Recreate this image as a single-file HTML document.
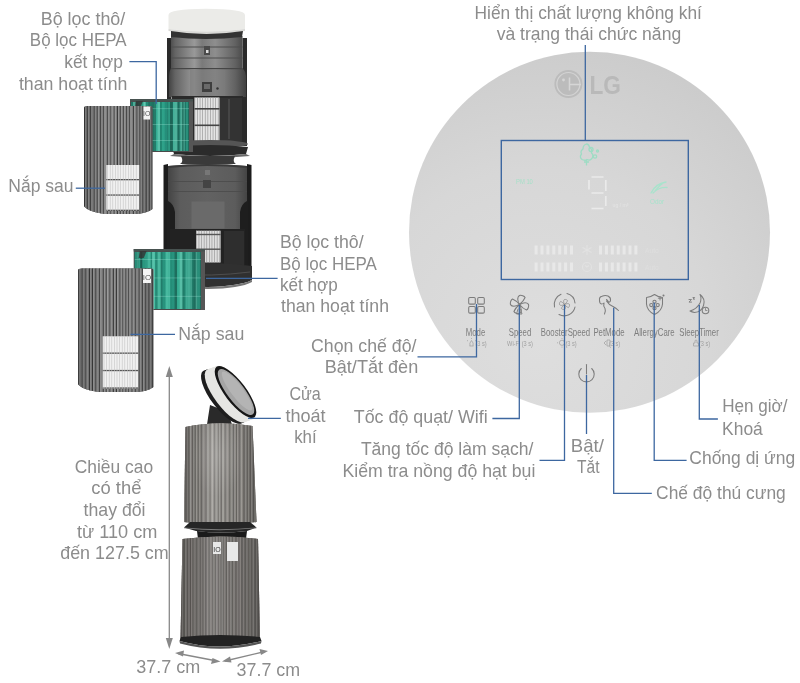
<!DOCTYPE html><html><head><meta charset="utf-8"><style>
html,body{margin:0;padding:0;background:#fff;width:800px;height:683px;overflow:hidden}
svg{display:block;font-family:"Liberation Sans",sans-serif;will-change:transform}
</style></head><body>
<svg width="800" height="683" viewBox="0 0 800 683">
<defs>
<radialGradient id="disc" cx="0.36" cy="0.8" r="0.95">
<stop offset="0" stop-color="#dedede"/><stop offset="0.5" stop-color="#d7d7d7"/><stop offset="1" stop-color="#c8c8c8"/>
</radialGradient>
<linearGradient id="cyl" x1="0" x2="1" y1="0" y2="0">
<stop offset="0" stop-color="#444"/><stop offset="0.08" stop-color="#646464"/><stop offset="0.33" stop-color="#999"/>
<stop offset="0.43" stop-color="#7a7a7a"/><stop offset="0.6" stop-color="#8e8e8e"/><stop offset="0.86" stop-color="#626262"/><stop offset="1" stop-color="#404040"/>
</linearGradient>
<linearGradient id="cyl2" x1="0" x2="1" y1="0" y2="0">
<stop offset="0" stop-color="#444"/><stop offset="0.15" stop-color="#5c5c5c"/><stop offset="0.5" stop-color="#626262"/>
<stop offset="0.85" stop-color="#5c5c5c"/><stop offset="1" stop-color="#444"/>
</linearGradient>
<linearGradient id="shade" x1="0" x2="1" y1="0" y2="0">
<stop offset="0" stop-color="#000" stop-opacity="0.35"/><stop offset="0.3" stop-color="#000" stop-opacity="0"/>
<stop offset="0.7" stop-color="#000" stop-opacity="0"/><stop offset="1" stop-color="#000" stop-opacity="0.35"/>
</linearGradient>
<linearGradient id="tallshade" x1="0" x2="1" y1="0" y2="0">
<stop offset="0" stop-color="#000" stop-opacity="0.28"/><stop offset="0.15" stop-color="#000" stop-opacity="0.05"/>
<stop offset="0.4" stop-color="#fff" stop-opacity="0.18"/><stop offset="0.6" stop-color="#fff" stop-opacity="0.06"/>
<stop offset="0.85" stop-color="#000" stop-opacity="0.08"/><stop offset="1" stop-color="#000" stop-opacity="0.3"/>
</linearGradient>
<radialGradient id="hl"><stop offset="0" stop-color="#fff" stop-opacity="0.14"/><stop offset="1" stop-color="#fff" stop-opacity="0"/></radialGradient>
<linearGradient id="green" x1="0" x2="1" y1="0" y2="0">
<stop offset="0" stop-color="#1e6e60"/><stop offset="0.3" stop-color="#2fa58c"/><stop offset="0.65" stop-color="#2c9d86"/><stop offset="1" stop-color="#1e6a5c"/>
</linearGradient>
</defs>

<g>
<rect x="167" y="38" width="4.5" height="108" fill="#2a2a2a"/><rect x="242.5" y="38" width="4.5" height="108" fill="#2a2a2a"/>
<path d="M171 36 L242.5 36 L242.5 68 Q246 72 246 76 L246 97 L169 97 L169 76 Q169 72 171 68 Z" fill="url(#cyl)"/>
<rect x="171" y="46.5" width="71.5" height="1" fill="#4e4e4e"/><rect x="171" y="57.5" width="71.5" height="1" fill="#4e4e4e"/><rect x="171" y="68" width="71.5" height="1.2" fill="#464646"/>
<path d="M190 70 L225 70 L225 97 L190 97Z" fill="#7c7c7c" opacity="0.6"/>
<rect x="204" y="46" width="6" height="9" fill="#4a4a4a"/><rect x="206" y="50" width="2.5" height="3" fill="#ddd"/>
<rect x="202" y="82" width="10" height="10" fill="#3e3e3e"/><rect x="204" y="84" width="6" height="5" fill="#6a6a6a"/><circle cx="217.5" cy="88.5" r="1.2" fill="#333"/>
<rect x="172" y="96" width="71" height="46" fill="#2a2a2a"/>
<rect x="218" y="98" width="24" height="43" fill="#333"/><rect x="228" y="99" width="2" height="40" fill="#454545"/>
<rect x="194.5" y="97.5" width="25" height="43.5" fill="#e4e4e4"/>
<rect x="194.5" y="97.5" width="0.7" height="43.5" fill="#9a9a9a"/><rect x="197.1" y="97.5" width="0.7" height="43.5" fill="#9a9a9a"/><rect x="199.7" y="97.5" width="0.7" height="43.5" fill="#9a9a9a"/><rect x="202.3" y="97.5" width="0.7" height="43.5" fill="#9a9a9a"/><rect x="204.9" y="97.5" width="0.7" height="43.5" fill="#9a9a9a"/><rect x="207.5" y="97.5" width="0.7" height="43.5" fill="#9a9a9a"/><rect x="210.1" y="97.5" width="0.7" height="43.5" fill="#9a9a9a"/><rect x="212.7" y="97.5" width="0.7" height="43.5" fill="#9a9a9a"/><rect x="215.3" y="97.5" width="0.7" height="43.5" fill="#9a9a9a"/><rect x="217.9" y="97.5" width="0.7" height="43.5" fill="#9a9a9a"/>
<rect x="194.5" y="108" width="25" height="1.6" fill="#444"/><rect x="194.5" y="124.5" width="25" height="1.6" fill="#444"/>
<ellipse cx="210" cy="144" rx="38" ry="4" fill="#555"/>
<path d="M172 147 Q210 143 248 147 L246 154 Q210 158 174 154 Z" fill="#2b2b2b"/>
<path d="M174 154 Q210 158 246 154 L250 156 Q210 160 170 156Z" fill="#6a6a6a"/>
<path d="M181 156 L235 156 Q232 162 236 164 L180 164 Q184 162 181 156Z" fill="#3a3a3a"/>
<path d="M168.5 29 L168.5 15 Q168.5 9 206 8.8 Q245 9 245 15 L245 29 Q206 34 168.5 29Z" fill="#ebebe8"/>
<path d="M168.5 29 Q206 34 245 29 L245 31 Q206 37 168.5 31Z" fill="#d9d9d6"/>
<path d="M171 31 Q206 37 243 31 L242 37 Q206 41 171 37Z" fill="#333"/>
</g>
<g>
<path d="M163.5 165 L168 164 L168 272 L163.5 272Z M247 164 L251.5 165 L251.5 272 L247 272Z" fill="#1c1c1c"/>
<rect x="167" y="195" width="81" height="76" fill="#1e1e1e"/>
<path d="M168 166 Q207 162 247 166 L247 201 Q241 204 240 212 L240 229 L175 229 L175 212 Q174 204 168 201Z" fill="url(#cyl2)"/>
<path d="M168 166 Q207 162 247 166 L247 168 Q207 164 168 168Z" fill="#3a3a3a"/>
<rect x="168" y="181" width="79" height="0.8" fill="#4a4a4a"/><rect x="168" y="191" width="79" height="0.8" fill="#4a4a4a"/>
<rect x="191.5" y="201.5" width="33" height="27" fill="#6a6a6a"/>
<rect x="205" y="170" width="5" height="5" fill="#777"/><rect x="203" y="180" width="8" height="8" fill="#444"/>
<rect x="170" y="229" width="75" height="40" fill="#222"/>
<rect x="224" y="231" width="20" height="36" fill="#2e2e2e"/>
<rect x="196" y="230.7" width="24.6" height="31.8" fill="#dedede"/>
<rect x="196.0" y="230.7" width="0.7" height="31.8" fill="#9a9a9a"/><rect x="198.6" y="230.7" width="0.7" height="31.8" fill="#9a9a9a"/><rect x="201.2" y="230.7" width="0.7" height="31.8" fill="#9a9a9a"/><rect x="203.8" y="230.7" width="0.7" height="31.8" fill="#9a9a9a"/><rect x="206.4" y="230.7" width="0.7" height="31.8" fill="#9a9a9a"/><rect x="209.0" y="230.7" width="0.7" height="31.8" fill="#9a9a9a"/><rect x="211.6" y="230.7" width="0.7" height="31.8" fill="#9a9a9a"/><rect x="214.2" y="230.7" width="0.7" height="31.8" fill="#9a9a9a"/><rect x="216.8" y="230.7" width="0.7" height="31.8" fill="#9a9a9a"/><rect x="219.4" y="230.7" width="0.7" height="31.8" fill="#9a9a9a"/>
<rect x="196" y="233.8" width="24.6" height="1.4" fill="#555"/><rect x="196" y="248.5" width="24.6" height="1.4" fill="#555"/>
<path d="M165 266 Q208 260 252 266 L252 280 Q240 286 208 287 Q180 287 165 284Z" fill="#303030"/>
<path d="M175 274 Q210 277 250 272" fill="none" stroke="#555" stroke-width="0.8"/>
<path d="M165 284 Q180 287 208 287 Q240 286 252 280 L252 282 Q240 288.5 208 289 Q180 289 165 286Z" fill="#777"/>
</g>
<rect x="130" y="99" width="63" height="53" fill="#4a4a4a"/><rect x="131" y="102" width="58" height="49" fill="url(#green)"/><rect x="131.0" y="102" width="2.0" height="49" fill="#1d7a68" opacity="0.64"/><rect x="133.0" y="102" width="2.7" height="49" fill="#7adcc4" opacity="0.50"/><rect x="135.7" y="102" width="2.3" height="49" fill="#17584c" opacity="0.62"/><rect x="138.0" y="102" width="2.0" height="49" fill="#1d7a68" opacity="0.62"/><rect x="140.1" y="102" width="1.2" height="49" fill="#3cb79b" opacity="0.36"/><rect x="141.3" y="102" width="2.2" height="49" fill="#2fa58b" opacity="0.55"/><rect x="143.4" y="102" width="2.3" height="49" fill="#7adcc4" opacity="0.69"/><rect x="145.8" y="102" width="2.4" height="49" fill="#1d7a68" opacity="0.56"/><rect x="148.2" y="102" width="2.4" height="49" fill="#133f38" opacity="0.51"/><rect x="150.6" y="102" width="1.1" height="49" fill="#17584c" opacity="0.65"/><rect x="151.7" y="102" width="2.3" height="49" fill="#133f38" opacity="0.49"/><rect x="154.0" y="102" width="2.0" height="49" fill="#133f38" opacity="0.38"/><rect x="156.0" y="102" width="1.5" height="49" fill="#3cb79b" opacity="0.50"/><rect x="157.5" y="102" width="2.5" height="49" fill="#7adcc4" opacity="0.56"/><rect x="160.0" y="102" width="1.9" height="49" fill="#1d7a68" opacity="0.70"/><rect x="161.9" y="102" width="2.8" height="49" fill="#2fa58b" opacity="0.40"/><rect x="164.7" y="102" width="2.7" height="49" fill="#1d7a68" opacity="0.42"/><rect x="167.4" y="102" width="1.2" height="49" fill="#133f38" opacity="0.34"/><rect x="168.5" y="102" width="1.2" height="49" fill="#3cb79b" opacity="0.45"/><rect x="169.8" y="102" width="3.1" height="49" fill="#133f38" opacity="0.57"/><rect x="172.9" y="102" width="1.5" height="49" fill="#5fcfb5" opacity="0.49"/><rect x="174.3" y="102" width="3.2" height="49" fill="#7adcc4" opacity="0.47"/><rect x="177.5" y="102" width="2.2" height="49" fill="#17584c" opacity="0.61"/><rect x="179.7" y="102" width="1.6" height="49" fill="#5fcfb5" opacity="0.42"/><rect x="181.3" y="102" width="1.0" height="49" fill="#7adcc4" opacity="0.60"/><rect x="182.4" y="102" width="1.3" height="49" fill="#17584c" opacity="0.58"/><rect x="183.6" y="102" width="1.0" height="49" fill="#7adcc4" opacity="0.62"/><rect x="184.6" y="102" width="1.4" height="49" fill="#1d7a68" opacity="0.38"/><rect x="186.0" y="102" width="2.0" height="49" fill="#2fa58b" opacity="0.61"/><rect x="131" y="108.4" width="58" height="0.7" fill="#9fe6d4" opacity="0.45"/><rect x="131" y="124.3" width="58" height="0.7" fill="#9fe6d4" opacity="0.45"/><rect x="131" y="140.2" width="58" height="0.7" fill="#9fe6d4" opacity="0.45"/><rect x="189" y="99" width="4" height="53" fill="#565656"/><rect x="130" y="99" width="63" height="2.5" fill="#475250"/><path d="M136 101 L143 101 L140 108 L135 108Z" fill="#333" opacity="0.8"/>
<rect x="133.7" y="249" width="71.30000000000001" height="61" fill="#4a4a4a"/><rect x="134.7" y="252" width="66.30000000000001" height="57" fill="url(#green)"/><rect x="134.7" y="252" width="2.0" height="57" fill="#2fa58b" opacity="0.51"/><rect x="136.7" y="252" width="1.8" height="57" fill="#7adcc4" opacity="0.30"/><rect x="138.5" y="252" width="1.8" height="57" fill="#3cb79b" opacity="0.56"/><rect x="140.3" y="252" width="2.0" height="57" fill="#133f38" opacity="0.54"/><rect x="142.4" y="252" width="2.2" height="57" fill="#2fa58b" opacity="0.55"/><rect x="144.6" y="252" width="3.2" height="57" fill="#3cb79b" opacity="0.36"/><rect x="147.7" y="252" width="3.0" height="57" fill="#5fcfb5" opacity="0.53"/><rect x="150.7" y="252" width="1.4" height="57" fill="#1d7a68" opacity="0.57"/><rect x="152.2" y="252" width="1.7" height="57" fill="#7adcc4" opacity="0.62"/><rect x="153.9" y="252" width="1.2" height="57" fill="#5fcfb5" opacity="0.63"/><rect x="155.1" y="252" width="2.5" height="57" fill="#17584c" opacity="0.34"/><rect x="157.6" y="252" width="3.2" height="57" fill="#7adcc4" opacity="0.35"/><rect x="160.7" y="252" width="1.9" height="57" fill="#17584c" opacity="0.52"/><rect x="162.7" y="252" width="2.9" height="57" fill="#1d7a68" opacity="0.37"/><rect x="165.6" y="252" width="2.5" height="57" fill="#5fcfb5" opacity="0.52"/><rect x="168.1" y="252" width="2.1" height="57" fill="#5fcfb5" opacity="0.46"/><rect x="170.2" y="252" width="1.9" height="57" fill="#1d7a68" opacity="0.49"/><rect x="172.2" y="252" width="2.3" height="57" fill="#1d7a68" opacity="0.31"/><rect x="174.5" y="252" width="2.6" height="57" fill="#17584c" opacity="0.69"/><rect x="177.1" y="252" width="2.5" height="57" fill="#3cb79b" opacity="0.68"/><rect x="179.6" y="252" width="2.9" height="57" fill="#7adcc4" opacity="0.57"/><rect x="182.5" y="252" width="1.3" height="57" fill="#17584c" opacity="0.43"/><rect x="183.7" y="252" width="1.8" height="57" fill="#1d7a68" opacity="0.62"/><rect x="185.5" y="252" width="2.1" height="57" fill="#5fcfb5" opacity="0.45"/><rect x="187.6" y="252" width="2.9" height="57" fill="#5fcfb5" opacity="0.51"/><rect x="190.5" y="252" width="1.5" height="57" fill="#7adcc4" opacity="0.32"/><rect x="192.0" y="252" width="1.4" height="57" fill="#1d7a68" opacity="0.34"/><rect x="193.5" y="252" width="2.2" height="57" fill="#17584c" opacity="0.33"/><rect x="195.7" y="252" width="1.6" height="57" fill="#7adcc4" opacity="0.41"/><rect x="197.3" y="252" width="1.8" height="57" fill="#2fa58b" opacity="0.59"/><rect x="199.0" y="252" width="1.0" height="57" fill="#3cb79b" opacity="0.38"/><rect x="134.7" y="259.3" width="66.30000000000001" height="0.7" fill="#9fe6d4" opacity="0.45"/><rect x="134.7" y="277.6" width="66.30000000000001" height="0.7" fill="#9fe6d4" opacity="0.45"/><rect x="134.7" y="295.9" width="66.30000000000001" height="0.7" fill="#9fe6d4" opacity="0.45"/><rect x="201" y="249" width="4" height="61" fill="#565656"/><rect x="133.7" y="249" width="71.30000000000001" height="2.5" fill="#475250"/><path d="M139.7 251 L146.7 251 L143.7 258 L138.7 258Z" fill="#333" opacity="0.8"/>
<clipPath id="cc21"><path d="M84 108 Q84 106 88 106 L150.5 106 L152.5 107 L152.5 209 Q146.5 214 132.5 214 L106 214 Q88 212 84 206Z"/></clipPath><g clip-path="url(#cc21)"><rect x="84" y="101" width="68.5" height="118" fill="#5f5f5f"/><rect x="84" y="101" width="68.5" height="118" fill="#7e7e7e"/><rect x="84.00" y="101" width="0.91" height="118" fill="#3a3a3a"/><rect x="85.00" y="101" width="1.04" height="118" fill="#9c9c9c" opacity="0.82"/><rect x="86.96" y="101" width="0.76" height="118" fill="#3a3a3a"/><rect x="87.96" y="101" width="1.15" height="118" fill="#9c9c9c" opacity="0.90"/><rect x="90.24" y="101" width="0.85" height="118" fill="#3a3a3a"/><rect x="91.24" y="101" width="1.26" height="118" fill="#9c9c9c" opacity="0.75"/><rect x="93.85" y="101" width="0.70" height="118" fill="#3a3a3a"/><rect x="94.85" y="101" width="1.06" height="118" fill="#9c9c9c" opacity="0.69"/><rect x="96.89" y="101" width="0.72" height="118" fill="#3a3a3a"/><rect x="97.89" y="101" width="1.18" height="118" fill="#9c9c9c" opacity="0.90"/><rect x="100.27" y="101" width="0.77" height="118" fill="#3a3a3a"/><rect x="101.27" y="101" width="1.06" height="118" fill="#9c9c9c" opacity="0.52"/><rect x="103.31" y="101" width="0.92" height="118" fill="#3a3a3a"/><rect x="104.31" y="101" width="1.33" height="118" fill="#9c9c9c" opacity="0.94"/><rect x="107.10" y="101" width="0.71" height="118" fill="#3a3a3a"/><rect x="108.10" y="101" width="1.20" height="118" fill="#9c9c9c" opacity="0.66"/><rect x="110.52" y="101" width="0.73" height="118" fill="#3a3a3a"/><rect x="111.52" y="101" width="1.15" height="118" fill="#9c9c9c" opacity="0.98"/><rect x="113.82" y="101" width="0.75" height="118" fill="#3a3a3a"/><rect x="114.82" y="101" width="1.11" height="118" fill="#9c9c9c" opacity="0.91"/><rect x="116.99" y="101" width="0.98" height="118" fill="#3a3a3a"/><rect x="117.99" y="101" width="1.02" height="118" fill="#9c9c9c" opacity="0.73"/><rect x="119.91" y="101" width="0.80" height="118" fill="#3a3a3a"/><rect x="120.91" y="101" width="1.17" height="118" fill="#9c9c9c" opacity="0.74"/><rect x="123.26" y="101" width="0.71" height="118" fill="#3a3a3a"/><rect x="124.26" y="101" width="1.05" height="118" fill="#9c9c9c" opacity="0.93"/><rect x="126.25" y="101" width="0.93" height="118" fill="#3a3a3a"/><rect x="127.25" y="101" width="1.06" height="118" fill="#9c9c9c" opacity="0.60"/><rect x="129.28" y="101" width="0.97" height="118" fill="#3a3a3a"/><rect x="130.28" y="101" width="1.32" height="118" fill="#9c9c9c" opacity="0.88"/><rect x="133.05" y="101" width="0.87" height="118" fill="#3a3a3a"/><rect x="134.05" y="101" width="1.25" height="118" fill="#9c9c9c" opacity="0.86"/><rect x="136.62" y="101" width="0.84" height="118" fill="#3a3a3a"/><rect x="137.62" y="101" width="1.02" height="118" fill="#9c9c9c" opacity="0.91"/><rect x="139.54" y="101" width="0.98" height="118" fill="#3a3a3a"/><rect x="140.54" y="101" width="1.05" height="118" fill="#9c9c9c" opacity="0.94"/><rect x="142.54" y="101" width="0.81" height="118" fill="#3a3a3a"/><rect x="143.54" y="101" width="1.12" height="118" fill="#9c9c9c" opacity="0.73"/><rect x="145.75" y="101" width="1.00" height="118" fill="#3a3a3a"/><rect x="146.75" y="101" width="1.12" height="118" fill="#9c9c9c" opacity="0.69"/><rect x="148.93" y="101" width="0.73" height="118" fill="#3a3a3a"/><rect x="149.93" y="101" width="0.99" height="118" fill="#9c9c9c" opacity="0.86"/><rect x="151.76" y="101" width="0.85" height="118" fill="#3a3a3a"/><rect x="152.76" y="101" width="1.33" height="118" fill="#9c9c9c" opacity="0.75"/><rect x="84" y="101" width="68.5" height="118" fill="url(#shade)" opacity="0.55"/><rect x="106.3" y="165" width="32.89999999999999" height="46" fill="#f0f0f0"/><rect x="106.3" y="179.0" width="32.89999999999999" height="1.3" fill="#555"/><rect x="106.3" y="194.4" width="32.89999999999999" height="1.3" fill="#555"/><rect x="106.3" y="209.7" width="32.89999999999999" height="1.3" fill="#555"/><rect x="107.3" y="165" width="0.6" height="46" fill="#c4c4c4"/><rect x="109.9" y="165" width="0.6" height="46" fill="#c4c4c4"/><rect x="112.5" y="165" width="0.6" height="46" fill="#c4c4c4"/><rect x="115.1" y="165" width="0.6" height="46" fill="#c4c4c4"/><rect x="117.7" y="165" width="0.6" height="46" fill="#c4c4c4"/><rect x="120.3" y="165" width="0.6" height="46" fill="#c4c4c4"/><rect x="122.9" y="165" width="0.6" height="46" fill="#c4c4c4"/><rect x="125.5" y="165" width="0.6" height="46" fill="#c4c4c4"/><rect x="128.1" y="165" width="0.6" height="46" fill="#c4c4c4"/><rect x="130.7" y="165" width="0.6" height="46" fill="#c4c4c4"/><rect x="133.3" y="165" width="0.6" height="46" fill="#c4c4c4"/><rect x="135.9" y="165" width="0.6" height="46" fill="#c4c4c4"/></g>
<rect x="143.5" y="106.5" width="6.5" height="13" fill="#f2f2f2"/><text x="146.8" y="116" font-size="7" fill="#555" text-anchor="middle">IO</text>
<clipPath id="cc22"><path d="M78 270.5 Q78 268.5 82 268.5 L151.5 268.5 L153.5 269.5 L153.5 387 Q147.5 392 133.5 392 L100 392 Q82 390 78 384Z"/></clipPath><g clip-path="url(#cc22)"><rect x="78" y="263.5" width="75.5" height="133.5" fill="#5f5f5f"/><rect x="78" y="263.5" width="75.5" height="133.5" fill="#7e7e7e"/><rect x="78.00" y="263.5" width="0.74" height="133.5" fill="#3a3a3a"/><rect x="79.00" y="263.5" width="1.32" height="133.5" fill="#9c9c9c" opacity="0.51"/><rect x="81.76" y="263.5" width="0.76" height="133.5" fill="#3a3a3a"/><rect x="82.76" y="263.5" width="1.33" height="133.5" fill="#9c9c9c" opacity="0.56"/><rect x="85.56" y="263.5" width="0.80" height="133.5" fill="#3a3a3a"/><rect x="86.56" y="263.5" width="1.21" height="133.5" fill="#9c9c9c" opacity="0.94"/><rect x="89.01" y="263.5" width="0.99" height="133.5" fill="#3a3a3a"/><rect x="90.01" y="263.5" width="1.06" height="133.5" fill="#9c9c9c" opacity="0.66"/><rect x="92.04" y="263.5" width="0.98" height="133.5" fill="#3a3a3a"/><rect x="93.04" y="263.5" width="1.19" height="133.5" fill="#9c9c9c" opacity="0.84"/><rect x="95.44" y="263.5" width="0.91" height="133.5" fill="#3a3a3a"/><rect x="96.44" y="263.5" width="1.30" height="133.5" fill="#9c9c9c" opacity="0.52"/><rect x="99.16" y="263.5" width="0.88" height="133.5" fill="#3a3a3a"/><rect x="100.16" y="263.5" width="1.29" height="133.5" fill="#9c9c9c" opacity="0.66"/><rect x="102.85" y="263.5" width="0.95" height="133.5" fill="#3a3a3a"/><rect x="103.85" y="263.5" width="1.05" height="133.5" fill="#9c9c9c" opacity="0.79"/><rect x="105.84" y="263.5" width="0.93" height="133.5" fill="#3a3a3a"/><rect x="106.84" y="263.5" width="1.31" height="133.5" fill="#9c9c9c" opacity="0.98"/><rect x="109.57" y="263.5" width="0.91" height="133.5" fill="#3a3a3a"/><rect x="110.57" y="263.5" width="1.18" height="133.5" fill="#9c9c9c" opacity="0.81"/><rect x="112.94" y="263.5" width="0.99" height="133.5" fill="#3a3a3a"/><rect x="113.94" y="263.5" width="1.07" height="133.5" fill="#9c9c9c" opacity="0.66"/><rect x="116.00" y="263.5" width="0.99" height="133.5" fill="#3a3a3a"/><rect x="117.00" y="263.5" width="1.25" height="133.5" fill="#9c9c9c" opacity="0.83"/><rect x="119.58" y="263.5" width="0.95" height="133.5" fill="#3a3a3a"/><rect x="120.58" y="263.5" width="1.03" height="133.5" fill="#9c9c9c" opacity="0.83"/><rect x="122.52" y="263.5" width="0.71" height="133.5" fill="#3a3a3a"/><rect x="123.52" y="263.5" width="1.04" height="133.5" fill="#9c9c9c" opacity="0.77"/><rect x="125.51" y="263.5" width="0.98" height="133.5" fill="#3a3a3a"/><rect x="126.51" y="263.5" width="0.99" height="133.5" fill="#9c9c9c" opacity="0.75"/><rect x="128.34" y="263.5" width="0.82" height="133.5" fill="#3a3a3a"/><rect x="129.34" y="263.5" width="1.16" height="133.5" fill="#9c9c9c" opacity="0.83"/><rect x="131.66" y="263.5" width="0.79" height="133.5" fill="#3a3a3a"/><rect x="132.66" y="263.5" width="1.30" height="133.5" fill="#9c9c9c" opacity="0.69"/><rect x="135.37" y="263.5" width="0.79" height="133.5" fill="#3a3a3a"/><rect x="136.37" y="263.5" width="1.18" height="133.5" fill="#9c9c9c" opacity="0.80"/><rect x="138.76" y="263.5" width="0.83" height="133.5" fill="#3a3a3a"/><rect x="139.76" y="263.5" width="1.17" height="133.5" fill="#9c9c9c" opacity="0.84"/><rect x="142.10" y="263.5" width="0.73" height="133.5" fill="#3a3a3a"/><rect x="143.10" y="263.5" width="1.16" height="133.5" fill="#9c9c9c" opacity="1.00"/><rect x="145.43" y="263.5" width="0.83" height="133.5" fill="#3a3a3a"/><rect x="146.43" y="263.5" width="1.10" height="133.5" fill="#9c9c9c" opacity="0.70"/><rect x="148.58" y="263.5" width="0.99" height="133.5" fill="#3a3a3a"/><rect x="149.58" y="263.5" width="1.31" height="133.5" fill="#9c9c9c" opacity="0.76"/><rect x="152.31" y="263.5" width="0.73" height="133.5" fill="#3a3a3a"/><rect x="153.31" y="263.5" width="1.12" height="133.5" fill="#9c9c9c" opacity="0.95"/><rect x="78" y="263.5" width="75.5" height="133.5" fill="url(#shade)" opacity="0.55"/><rect x="102.7" y="336.3" width="35.499999999999986" height="52.39999999999998" fill="#f0f0f0"/><rect x="102.7" y="352.5" width="35.499999999999986" height="1.3" fill="#555"/><rect x="102.7" y="369.9" width="35.499999999999986" height="1.3" fill="#555"/><rect x="102.7" y="387.4" width="35.499999999999986" height="1.3" fill="#555"/><rect x="103.7" y="336.3" width="0.6" height="52.39999999999998" fill="#c4c4c4"/><rect x="106.3" y="336.3" width="0.6" height="52.39999999999998" fill="#c4c4c4"/><rect x="108.9" y="336.3" width="0.6" height="52.39999999999998" fill="#c4c4c4"/><rect x="111.5" y="336.3" width="0.6" height="52.39999999999998" fill="#c4c4c4"/><rect x="114.1" y="336.3" width="0.6" height="52.39999999999998" fill="#c4c4c4"/><rect x="116.7" y="336.3" width="0.6" height="52.39999999999998" fill="#c4c4c4"/><rect x="119.3" y="336.3" width="0.6" height="52.39999999999998" fill="#c4c4c4"/><rect x="121.9" y="336.3" width="0.6" height="52.39999999999998" fill="#c4c4c4"/><rect x="124.5" y="336.3" width="0.6" height="52.39999999999998" fill="#c4c4c4"/><rect x="127.1" y="336.3" width="0.6" height="52.39999999999998" fill="#c4c4c4"/><rect x="129.7" y="336.3" width="0.6" height="52.39999999999998" fill="#c4c4c4"/><rect x="132.3" y="336.3" width="0.6" height="52.39999999999998" fill="#c4c4c4"/><rect x="134.9" y="336.3" width="0.6" height="52.39999999999998" fill="#c4c4c4"/></g>
<rect x="143" y="269" width="8" height="14" fill="#f4f4f4"/><text x="147" y="280" font-size="8" fill="#555" text-anchor="middle">IO</text>
<g>
<path d="M210 405 L228 412 L232 424.5 L207 424.5Z" fill="#2a2a2a"/>
<ellipse cx="222.50" cy="397.00" rx="32.4" ry="11.4" transform="rotate(53 222.50 397.00)" fill="#1e1e1e"/>
<ellipse cx="223.75" cy="396.55" rx="32.4" ry="11.4" transform="rotate(53 223.75 396.55)" fill="#1e1e1e"/>
<ellipse cx="225.00" cy="396.10" rx="32.4" ry="11.4" transform="rotate(53 225.00 396.10)" fill="#1e1e1e"/>
<ellipse cx="226.25" cy="395.65" rx="32.4" ry="11.4" transform="rotate(53 226.25 395.65)" fill="#e6e6e3"/>
<ellipse cx="227.50" cy="395.20" rx="32.4" ry="11.4" transform="rotate(53 227.50 395.20)" fill="#e6e6e3"/>
<ellipse cx="228.75" cy="394.75" rx="32.4" ry="11.4" transform="rotate(53 228.75 394.75)" fill="#e6e6e3"/>
<ellipse cx="230.00" cy="394.30" rx="32.4" ry="11.4" transform="rotate(53 230.00 394.30)" fill="#e6e6e3"/>
<ellipse cx="231.25" cy="393.85" rx="32.4" ry="11.4" transform="rotate(53 231.25 393.85)" fill="#e6e6e3"/>
<ellipse cx="232.50" cy="393.40" rx="32.4" ry="11.4" transform="rotate(53 232.50 393.40)" fill="#e6e6e3"/>
<ellipse cx="233.75" cy="392.95" rx="32.4" ry="11.4" transform="rotate(53 233.75 392.95)" fill="#e6e6e3"/>
<ellipse cx="235.00" cy="392.50" rx="32.4" ry="11.4" transform="rotate(53 235.00 392.50)" fill="#e6e6e3"/>
<ellipse cx="235.5" cy="392" rx="31.5" ry="10.6" transform="rotate(53 235.5 392)" fill="#161616"/>
<ellipse cx="236" cy="392" rx="28" ry="8.8" transform="rotate(53 236 392)" fill="#a5a5a5"/>
<ellipse cx="237" cy="391" rx="24" ry="6" transform="rotate(53 237 391)" fill="#b4b4b4"/>
<clipPath id="up"><path d="M185.5 427 Q219 420 252.5 426 L256.5 522 Q220 527 184 522Z"/></clipPath>
<g clip-path="url(#up)"><rect x="180" y="418" width="80" height="110" fill="#7b7875"/>
<rect x="180" y="418" width="80" height="110" fill="#83807c"/><rect x="180.00" y="418" width="0.76" height="110" fill="#5c5956" opacity="0.76"/><rect x="181.18" y="418" width="0.79" height="110" fill="#a9a6a2" opacity="0.71"/><rect x="182.62" y="418" width="0.76" height="110" fill="#5c5956" opacity="0.69"/><rect x="183.92" y="418" width="0.86" height="110" fill="#a9a6a2" opacity="0.75"/><rect x="185.50" y="418" width="1.07" height="110" fill="#5c5956" opacity="0.86"/><rect x="186.80" y="418" width="0.87" height="110" fill="#a9a6a2" opacity="0.38"/><rect x="188.40" y="418" width="0.92" height="110" fill="#5c5956" opacity="0.77"/><rect x="190.05" y="418" width="1.10" height="110" fill="#a9a6a2" opacity="0.90"/><rect x="192.07" y="418" width="0.71" height="110" fill="#5c5956" opacity="0.98"/><rect x="193.32" y="418" width="0.84" height="110" fill="#a9a6a2" opacity="0.54"/><rect x="194.85" y="418" width="0.87" height="110" fill="#5c5956" opacity="0.75"/><rect x="196.20" y="418" width="0.90" height="110" fill="#a9a6a2" opacity="0.87"/><rect x="197.85" y="418" width="0.81" height="110" fill="#5c5956" opacity="0.83"/><rect x="199.21" y="418" width="0.91" height="110" fill="#a9a6a2" opacity="0.63"/><rect x="200.87" y="418" width="1.12" height="110" fill="#5c5956" opacity="0.74"/><rect x="202.90" y="418" width="1.35" height="110" fill="#a9a6a2" opacity="0.42"/><rect x="205.38" y="418" width="1.19" height="110" fill="#5c5956" opacity="0.61"/><rect x="207.30" y="418" width="1.28" height="110" fill="#a9a6a2" opacity="0.74"/><rect x="209.65" y="418" width="1.03" height="110" fill="#5c5956" opacity="0.69"/><rect x="211.60" y="418" width="1.30" height="110" fill="#a9a6a2" opacity="0.78"/><rect x="213.99" y="418" width="0.80" height="110" fill="#5c5956" opacity="0.86"/><rect x="215.82" y="418" width="1.22" height="110" fill="#a9a6a2" opacity="0.43"/><rect x="218.05" y="418" width="0.87" height="110" fill="#5c5956" opacity="0.73"/><rect x="219.26" y="418" width="0.80" height="110" fill="#a9a6a2" opacity="0.54"/><rect x="220.73" y="418" width="1.12" height="110" fill="#5c5956" opacity="0.98"/><rect x="222.48" y="418" width="1.17" height="110" fill="#a9a6a2" opacity="0.89"/><rect x="224.62" y="418" width="1.09" height="110" fill="#5c5956" opacity="0.72"/><rect x="226.69" y="418" width="1.38" height="110" fill="#a9a6a2" opacity="0.41"/><rect x="229.21" y="418" width="0.97" height="110" fill="#5c5956" opacity="0.87"/><rect x="230.94" y="418" width="1.15" height="110" fill="#a9a6a2" opacity="0.36"/><rect x="233.06" y="418" width="1.16" height="110" fill="#5c5956" opacity="0.84"/><rect x="234.40" y="418" width="0.90" height="110" fill="#a9a6a2" opacity="0.72"/><rect x="236.05" y="418" width="0.90" height="110" fill="#5c5956" opacity="0.96"/><rect x="237.30" y="418" width="0.84" height="110" fill="#a9a6a2" opacity="0.69"/><rect x="238.84" y="418" width="0.80" height="110" fill="#5c5956" opacity="0.78"/><rect x="240.90" y="418" width="1.37" height="110" fill="#a9a6a2" opacity="0.78"/><rect x="243.42" y="418" width="1.09" height="110" fill="#5c5956" opacity="0.82"/><rect x="244.99" y="418" width="1.05" height="110" fill="#a9a6a2" opacity="0.37"/><rect x="246.91" y="418" width="1.19" height="110" fill="#5c5956" opacity="0.65"/><rect x="248.17" y="418" width="0.84" height="110" fill="#a9a6a2" opacity="0.42"/><rect x="249.71" y="418" width="1.06" height="110" fill="#5c5956" opacity="0.94"/><rect x="251.18" y="418" width="0.98" height="110" fill="#a9a6a2" opacity="0.59"/><rect x="252.98" y="418" width="1.09" height="110" fill="#5c5956" opacity="0.71"/><rect x="254.60" y="418" width="1.08" height="110" fill="#a9a6a2" opacity="0.52"/><rect x="256.57" y="418" width="1.02" height="110" fill="#5c5956" opacity="0.62"/><rect x="258.29" y="418" width="1.15" height="110" fill="#a9a6a2" opacity="0.37"/>
<rect x="180" y="418" width="80" height="110" fill="url(#tallshade)"/>
<ellipse cx="218" cy="455" rx="26" ry="42" fill="url(#hl)"/></g>
<path d="M190 522 L250 522 L256.5 527.5 L247 531 Q220 534 196 531 L184 527.5Z" fill="#262626"/>
<path d="M184 527.5 Q220 531 256.5 527.5 L256.5 528.3 Q220 532 184 528.3Z" fill="#7a7a7a"/>
<path d="M197 531 Q220 534 247 531 L246 539 Q220 541 198 539Z" fill="#1a1a1a"/>
<clipPath id="lo"><path d="M182.5 539 Q220 534 258 539 L260 640 Q220 645 180.5 640Z"/></clipPath>
<g clip-path="url(#lo)"><rect x="178" y="530" width="85" height="115" fill="#6e6b68"/>
<rect x="178" y="530" width="85" height="115" fill="#74716e"/><rect x="178.00" y="530" width="0.81" height="115" fill="#55524f" opacity="0.72"/><rect x="179.13" y="530" width="0.75" height="115" fill="#938f8c" opacity="0.84"/><rect x="180.51" y="530" width="1.06" height="115" fill="#55524f" opacity="0.64"/><rect x="181.90" y="530" width="0.93" height="115" fill="#938f8c" opacity="0.61"/><rect x="183.60" y="530" width="0.96" height="115" fill="#55524f" opacity="0.98"/><rect x="185.21" y="530" width="1.07" height="115" fill="#938f8c" opacity="0.83"/><rect x="187.18" y="530" width="0.70" height="115" fill="#55524f" opacity="0.90"/><rect x="188.50" y="530" width="0.88" height="115" fill="#938f8c" opacity="0.38"/><rect x="190.10" y="530" width="1.07" height="115" fill="#55524f" opacity="0.94"/><rect x="191.19" y="530" width="0.72" height="115" fill="#938f8c" opacity="0.80"/><rect x="192.52" y="530" width="0.80" height="115" fill="#55524f" opacity="0.63"/><rect x="194.20" y="530" width="1.12" height="115" fill="#938f8c" opacity="0.37"/><rect x="196.25" y="530" width="0.76" height="115" fill="#55524f" opacity="0.66"/><rect x="197.95" y="530" width="1.13" height="115" fill="#938f8c" opacity="0.31"/><rect x="200.02" y="530" width="0.72" height="115" fill="#55524f" opacity="0.74"/><rect x="201.13" y="530" width="0.74" height="115" fill="#938f8c" opacity="0.40"/><rect x="202.49" y="530" width="1.16" height="115" fill="#55524f" opacity="0.67"/><rect x="203.76" y="530" width="0.85" height="115" fill="#938f8c" opacity="0.79"/><rect x="205.32" y="530" width="0.98" height="115" fill="#55524f" opacity="0.83"/><rect x="206.87" y="530" width="1.03" height="115" fill="#938f8c" opacity="0.76"/><rect x="208.76" y="530" width="0.81" height="115" fill="#55524f" opacity="0.73"/><rect x="210.21" y="530" width="0.97" height="115" fill="#938f8c" opacity="0.45"/><rect x="211.98" y="530" width="1.19" height="115" fill="#55524f" opacity="0.77"/><rect x="213.31" y="530" width="0.89" height="115" fill="#938f8c" opacity="0.34"/><rect x="214.94" y="530" width="1.11" height="115" fill="#55524f" opacity="0.78"/><rect x="216.32" y="530" width="0.92" height="115" fill="#938f8c" opacity="0.72"/><rect x="218.01" y="530" width="0.73" height="115" fill="#55524f" opacity="0.86"/><rect x="219.14" y="530" width="0.76" height="115" fill="#938f8c" opacity="0.33"/><rect x="220.53" y="530" width="0.89" height="115" fill="#55524f" opacity="0.68"/><rect x="221.80" y="530" width="0.85" height="115" fill="#938f8c" opacity="0.32"/><rect x="223.36" y="530" width="1.18" height="115" fill="#55524f" opacity="0.88"/><rect x="224.44" y="530" width="0.72" height="115" fill="#938f8c" opacity="0.87"/><rect x="225.77" y="530" width="1.18" height="115" fill="#55524f" opacity="0.95"/><rect x="227.16" y="530" width="0.93" height="115" fill="#938f8c" opacity="0.67"/><rect x="228.85" y="530" width="0.95" height="115" fill="#55524f" opacity="0.69"/><rect x="230.26" y="530" width="0.94" height="115" fill="#938f8c" opacity="0.53"/><rect x="231.99" y="530" width="0.80" height="115" fill="#55524f" opacity="0.94"/><rect x="233.52" y="530" width="1.02" height="115" fill="#938f8c" opacity="0.61"/><rect x="235.40" y="530" width="1.11" height="115" fill="#55524f" opacity="0.86"/><rect x="236.86" y="530" width="0.97" height="115" fill="#938f8c" opacity="0.38"/><rect x="238.65" y="530" width="0.70" height="115" fill="#55524f" opacity="0.61"/><rect x="239.88" y="530" width="0.82" height="115" fill="#938f8c" opacity="0.87"/><rect x="241.39" y="530" width="1.18" height="115" fill="#55524f" opacity="0.91"/><rect x="242.85" y="530" width="0.97" height="115" fill="#938f8c" opacity="0.49"/><rect x="244.62" y="530" width="1.16" height="115" fill="#55524f" opacity="0.78"/><rect x="246.31" y="530" width="1.13" height="115" fill="#938f8c" opacity="0.35"/><rect x="248.38" y="530" width="0.78" height="115" fill="#55524f" opacity="0.75"/><rect x="249.66" y="530" width="0.85" height="115" fill="#938f8c" opacity="0.35"/><rect x="251.22" y="530" width="1.19" height="115" fill="#55524f" opacity="0.68"/><rect x="252.75" y="530" width="1.02" height="115" fill="#938f8c" opacity="0.77"/><rect x="254.62" y="530" width="0.94" height="115" fill="#55524f" opacity="0.96"/><rect x="256.07" y="530" width="0.97" height="115" fill="#938f8c" opacity="0.53"/><rect x="257.84" y="530" width="0.72" height="115" fill="#55524f" opacity="0.99"/><rect x="259.44" y="530" width="1.06" height="115" fill="#938f8c" opacity="0.41"/><rect x="261.39" y="530" width="1.14" height="115" fill="#55524f" opacity="0.89"/><rect x="262.47" y="530" width="0.72" height="115" fill="#938f8c" opacity="0.70"/>
<rect x="178" y="530" width="85" height="115" fill="url(#tallshade)" opacity="0.8"/></g>
<rect x="213" y="542" width="8" height="12" fill="#e8e8e8"/><text x="217" y="552" font-size="7" fill="#333" text-anchor="middle">IO</text>
<rect x="227" y="542" width="11" height="19" fill="#e8e8e8"/>
<path d="M181 637 Q220 633 260 637 L261.5 641 Q220 652 179.5 641Z" fill="#222"/>
<path d="M179.5 641 Q220 652 261.5 641 L261 643.5 Q220 654 180 643.5Z" fill="#555"/>
</g>
<g stroke="#888" stroke-width="1.3" fill="#888">
<line x1="169.3" y1="372" x2="169.3" y2="643"/>
</g>
<path d="M169.3 366 L165.8 377 L172.8 377Z" fill="#888"/>
<path d="M169.3 649 L165.8 638 L172.8 638Z" fill="#888"/>
<line x1="178" y1="653.5" x2="217" y2="661" stroke="#888" stroke-width="1.3"/>
<path d="M175 653 L184 650.5 L183 656.5Z" fill="#888"/><path d="M220.5 661.5 L211 664 L212.5 658Z" fill="#888"/>
<line x1="225" y1="661" x2="265" y2="651.5" stroke="#888" stroke-width="1.3"/>
<path d="M222 661.5 L230 656.5 L231.5 662.5Z" fill="#888"/><path d="M268 651 L259.5 649 L261 655Z" fill="#888"/>
<circle cx="589.5" cy="232.3" r="180.5" fill="url(#disc)"/>
<circle cx="568.4" cy="84" r="14" fill="#bcbcbc"/>
<circle cx="568.4" cy="84" r="11.5" fill="none" stroke="#d4d4d4" stroke-width="1.2"/>
<path d="M569.5 77.5 V90.5 M569.5 84.5 H581" fill="none" stroke="#d6d6d6" stroke-width="1.5"/>
<circle cx="563.5" cy="80" r="1.4" fill="#d6d6d6"/>
<text x="589.5" y="93.5" font-size="25" font-weight="bold" fill="#b9b9b9" textLength="31.5" lengthAdjust="spacingAndGlyphs">LG</text>
<g fill="none" stroke="#9edcc4" stroke-width="1.3" stroke-linejoin="round">
<path d="M586.5 144 Q583 145 583 149 Q580 151 581.5 154 Q579 157 582 159.5 Q585 161 587 159.5 Q590 161 592 158.5 Q594 155 591.5 153 Q592.5 149 589.5 147.5 Q589 144 586.5 144Z M586.5 159.5 V165.5 M584 162 H589"/>
<circle cx="591" cy="149.5" r="2"/><circle cx="595" cy="156.5" r="1.7"/><circle cx="597.5" cy="151" r="1"/>
</g>
<text x="516" y="184" font-size="6.5" fill="#a8e0c8" transform="translate(516 0) scale(0.9 1) translate(-516 0)">PM 10</text>
<g stroke="#eaeaea" stroke-width="1.7" fill="none" stroke-linecap="butt"><path d="M591.5 177 H603.5 M589 180 V189.5 M605.8 180 V191 M591.5 193 H603.5 M605.8 196 V206 M591.5 208.5 H603.5"/></g>
<text x="612.6" y="207" font-size="6" fill="#e4e4e4" transform="translate(612.6 0) scale(0.85 1) translate(-612.6 0)">ug / m³</text>
<g stroke="#a8e3cc" stroke-width="1.3" fill="none" stroke-linecap="round"><path d="M651 193 Q655 184 666 182 M653 193 Q659 187 667 187.5 M655 191 Q660 185 662 184"/></g>
<text x="650" y="204" font-size="7.5" fill="#a8e3cc" transform="translate(650 0) scale(0.85 1) translate(-650 0)">Odor</text>
<rect x="534.6" y="245.5" width="3" height="9" fill="#e8e8e8"/>
<rect x="540.5" y="245.5" width="3" height="9" fill="#e8e8e8"/>
<rect x="546.4" y="245.5" width="3" height="9" fill="#e8e8e8"/>
<rect x="552.3" y="245.5" width="3" height="9" fill="#e8e8e8"/>
<rect x="558.2" y="245.5" width="3" height="9" fill="#e8e8e8"/>
<rect x="564.1" y="245.5" width="3" height="9" fill="#e8e8e8"/>
<rect x="570.0" y="245.5" width="3" height="9" fill="#e8e8e8"/>
<rect x="599.0" y="245.5" width="3" height="9" fill="#e8e8e8"/>
<rect x="604.9" y="245.5" width="3" height="9" fill="#e8e8e8"/>
<rect x="610.8" y="245.5" width="3" height="9" fill="#e8e8e8"/>
<rect x="616.7" y="245.5" width="3" height="9" fill="#e8e8e8"/>
<rect x="622.6" y="245.5" width="3" height="9" fill="#e8e8e8"/>
<rect x="628.5" y="245.5" width="3" height="9" fill="#e8e8e8"/>
<rect x="634.4" y="245.5" width="3" height="9" fill="#e8e8e8"/>
<text x="645" y="253.5" font-size="7.5" fill="#dedede" transform="translate(645 0) scale(0.9 1) translate(-645 0)">Auto</text>
<rect x="534.6" y="262.5" width="3" height="9" fill="#e8e8e8"/>
<rect x="540.5" y="262.5" width="3" height="9" fill="#e8e8e8"/>
<rect x="546.4" y="262.5" width="3" height="9" fill="#e8e8e8"/>
<rect x="552.3" y="262.5" width="3" height="9" fill="#e8e8e8"/>
<rect x="558.2" y="262.5" width="3" height="9" fill="#e8e8e8"/>
<rect x="564.1" y="262.5" width="3" height="9" fill="#e8e8e8"/>
<rect x="570.0" y="262.5" width="3" height="9" fill="#e8e8e8"/>
<rect x="599.0" y="262.5" width="3" height="9" fill="#e8e8e8"/>
<rect x="604.9" y="262.5" width="3" height="9" fill="#e8e8e8"/>
<rect x="610.8" y="262.5" width="3" height="9" fill="#e8e8e8"/>
<rect x="616.7" y="262.5" width="3" height="9" fill="#e8e8e8"/>
<rect x="622.6" y="262.5" width="3" height="9" fill="#e8e8e8"/>
<rect x="628.5" y="262.5" width="3" height="9" fill="#e8e8e8"/>
<rect x="634.4" y="262.5" width="3" height="9" fill="#e8e8e8"/>
<text x="645" y="270.5" font-size="7.5" fill="#dedede" transform="translate(645 0) scale(0.9 1) translate(-645 0)">Auto</text>
<g fill="none" stroke="#e2e2e2" stroke-width="1.1"><path d="M587 245 V255 M582.5 247.5 L591.5 252.5 M582.5 252.5 L591.5 247.5"/><circle cx="587" cy="267" r="4.5"/><path d="M585 265.5 L587 267 L589 265.5"/></g>
<rect x="501.3" y="140.5" width="187" height="139" fill="none" stroke="#3d67a0" stroke-width="1.4"/>
<g fill="none" stroke="#7c7c7c" stroke-width="1.05" stroke-linejoin="round" stroke-linecap="round">
<rect x="468.7" y="297.5" width="6.6" height="6.6" rx="1.2"/>
<rect x="468.7" y="306.5" width="6.6" height="6.6" rx="1.2"/>
<rect x="477.7" y="297.5" width="6.6" height="6.6" rx="1.2"/>
<rect x="477.7" y="306.5" width="6.6" height="6.6" rx="1.2"/>
<g transform="translate(519.5 304.5) rotate(12)">
<path transform="rotate(0)" d="M0 0 C-2.5 -3 -4 -6.5 -2 -8.8 C0 -9.8 3 -9.3 4 -8 C3.5 -5 2 -2.5 0 0Z"/>
<path transform="rotate(90)" d="M0 0 C-2.5 -3 -4 -6.5 -2 -8.8 C0 -9.8 3 -9.3 4 -8 C3.5 -5 2 -2.5 0 0Z"/>
<path transform="rotate(180)" d="M0 0 C-2.5 -3 -4 -6.5 -2 -8.8 C0 -9.8 3 -9.3 4 -8 C3.5 -5 2 -2.5 0 0Z"/>
<path transform="rotate(270)" d="M0 0 C-2.5 -3 -4 -6.5 -2 -8.8 C0 -9.8 3 -9.3 4 -8 C3.5 -5 2 -2.5 0 0Z"/>
</g>
<path d="M518 309 L516.5 314 H522 L520.5 309" stroke-width="0.9"/>
<path d="M567 293.5 A11 11 0 0 1 575 303 M575 307 A11 11 0 0 1 559 314.5 M554.5 307 A11 11 0 0 1 561 294.3"/>
<g transform="translate(564.5 304.5) rotate(12) scale(0.55)">
<path transform="rotate(0)" d="M0 0 C-2.5 -3 -4 -6.5 -2 -8.8 C0 -9.8 3 -9.3 4 -8 C3.5 -5 2 -2.5 0 0Z"/>
<path transform="rotate(90)" d="M0 0 C-2.5 -3 -4 -6.5 -2 -8.8 C0 -9.8 3 -9.3 4 -8 C3.5 -5 2 -2.5 0 0Z"/>
<path transform="rotate(180)" d="M0 0 C-2.5 -3 -4 -6.5 -2 -8.8 C0 -9.8 3 -9.3 4 -8 C3.5 -5 2 -2.5 0 0Z"/>
<path transform="rotate(270)" d="M0 0 C-2.5 -3 -4 -6.5 -2 -8.8 C0 -9.8 3 -9.3 4 -8 C3.5 -5 2 -2.5 0 0Z"/>
</g>
<path d="M599.5 300.5 Q599 297 602 296.3 Q605 295 608 296 Q611 297.5 610.5 300.5 Q610 302.5 608.5 302 Q607.5 300 606.5 299.5 M599.5 300.5 Q599.5 303.5 601.5 304 Q603 304 604 303 M604 303 Q603 306 605 308.5 Q606 311 604.5 314 M606.5 301 Q609 305 613 306.5 Q616 308 618.5 310.5"/>
<path d="M654.5 294.5 Q650 297.5 646.5 297.5 L646.5 304 Q647 311 654.5 314.5 Q662 311 662.5 304 L662.5 297.5 Q659 297.5 654.5 294.5Z"/>
<circle cx="654.5" cy="301.8" r="1.6"/><circle cx="654.5" cy="308.2" r="1.6"/><circle cx="651.3" cy="305" r="1.6"/><circle cx="657.7" cy="305" r="1.6"/>
<path d="M660 296.5 V300 M658.3 298.2 H661.7" stroke-width="0.9"/><circle cx="663.5" cy="295.5" r="0.5" fill="#7c7c7c"/>
<path d="M700 294.5 A10 10 0 0 1 694.5 312.5 Q692 312 690 311 Q697 309 700 303 Q702 298 700 294.5Z"/><circle cx="705.5" cy="310.5" r="3.3"/><path d="M705.5 308.5 V310.5 H707" stroke-width="0.8"/><path d="M689 299.5 h2.5 l-2.5 2.6 h2.5 M693 297.5 h1.6 l-1.6 1.6 h1.6" stroke-width="0.9"/>
<path d="M581.3 368.5 A7.7 7.7 0 1 0 591.7 368.5"/><path d="M586.5 364.5 V374"/>
</g>
<text x="475.5" y="336.2" font-size="10" fill="#7d7d7d" text-anchor="middle" transform="translate(475.5 0) scale(0.78 1) translate(-475.5 0)">Mode</text><text x="482.5" y="346" font-size="7" fill="#a0a0a0" text-anchor="middle" transform="translate(475.5 0) scale(0.8 1) translate(-475.5 0)">(3 s)</text><path fill="none" stroke="#a4a4a4" stroke-width="0.8" d="M469.5 346 h4 M470 346 Q469 343 471.5 340.5 Q474 343 473 346 M471.5 339 v-1 M468 341 l-1 -0.6 M475 341 l1 -0.6"/>
<text x="520" y="336.2" font-size="10" fill="#7d7d7d" text-anchor="middle" transform="translate(520 0) scale(0.78 1) translate(-520 0)">Speed</text><text x="520" y="346" font-size="7" fill="#a0a0a0" text-anchor="middle" transform="translate(520 0) scale(0.8 1) translate(-520 0)">Wi-Fi (3 s)</text>
<text x="565.5" y="336.2" font-size="10" fill="#7d7d7d" text-anchor="middle" transform="translate(565.5 0) scale(0.78 1) translate(-565.5 0)">BoosterSpeed</text><text x="572.5" y="346" font-size="7" fill="#a0a0a0" text-anchor="middle" transform="translate(565.5 0) scale(0.8 1) translate(-565.5 0)">(3 s)</text><circle fill="none" stroke="#a4a4a4" stroke-width="0.8" cx="562" cy="342.8" r="2.6"/><path fill="none" stroke="#a4a4a4" stroke-width="0.8" d="M558 342.8 h-1 M566 342.8 h1 M562 339 v-1 M562 346.6 v1"/>
<text x="609" y="336.2" font-size="10" fill="#7d7d7d" text-anchor="middle" transform="translate(609 0) scale(0.78 1) translate(-609 0)">PetMode</text><text x="616" y="346" font-size="7" fill="#a0a0a0" text-anchor="middle" transform="translate(609 0) scale(0.8 1) translate(-609 0)">(3 s)</text><path fill="none" stroke="#a4a4a4" stroke-width="0.8" d="M604 343 l2 -2 M604 343 l2 2 M607 340 h3 v6 h-3z"/>
<text x="699" y="336.2" font-size="10" fill="#7d7d7d" text-anchor="middle" transform="translate(699 0) scale(0.78 1) translate(-699 0)">SleepTimer</text><text x="706" y="346" font-size="7" fill="#a0a0a0" text-anchor="middle" transform="translate(699 0) scale(0.8 1) translate(-699 0)">(3 s)</text><path fill="none" stroke="#a4a4a4" stroke-width="0.8" d="M693.5 346 h5 v-3 h-1.5 v-2.5 q-1 -1 -2 0 v2.5 h-1.5z"/>
<text x="654.3" y="336.2" font-size="10" fill="#7d7d7d" text-anchor="middle" transform="translate(654.3 0) scale(0.78 1) translate(-654.3 0)">AllergyCare</text>
<g fill="none" stroke="#3d67a0" stroke-width="1.3">
<path d="M129.4 61.6 H156.2 V104"/>
<path d="M206 278.3 H277.6"/>
<path d="M75.8 188.2 H105"/>
<path d="M130.5 334.3 H175"/>
<path d="M248 418.4 H280.8"/>
<path d="M585.3 45 V140.5"/>
<path d="M476.5 304 V356.8 H417.5"/>
<path d="M519.3 305 V418.5 H492.4"/>
<path d="M564.5 305 V460.4 H539.5"/>
<path d="M586.5 375 V434"/>
<path d="M613.7 307.7 V493.3 H651.8"/>
<path d="M654.2 302.5 V460.3 H686.6"/>
<path d="M699.3 305 V419 H717.9"/>
</g>
<text x="40.69" y="24.8" font-size="17.7" textLength="84.59" lengthAdjust="spacingAndGlyphs" fill="#8c8c8c">Bộ lọc thô/</text>
<text x="29.84" y="46.4" font-size="17.7" textLength="96.8" lengthAdjust="spacingAndGlyphs" fill="#8c8c8c">Bộ lọc HEPA</text>
<text x="64.22" y="68.0" font-size="17.7" textLength="58.66" lengthAdjust="spacingAndGlyphs" fill="#8c8c8c">kết hợp</text>
<text x="18.9" y="89.5" font-size="17.7" textLength="108.49" lengthAdjust="spacingAndGlyphs" fill="#8c8c8c">than hoạt tính</text>
<text x="8.31" y="192.25" font-size="17.7" textLength="65.27" lengthAdjust="spacingAndGlyphs" fill="#8c8c8c">Nắp sau</text>
<text x="280.0" y="247.5" font-size="17.7" textLength="83.58" lengthAdjust="spacingAndGlyphs" fill="#8c8c8c">Bộ lọc thô/</text>
<text x="280.04" y="269.5" font-size="17.7" textLength="96.9" lengthAdjust="spacingAndGlyphs" fill="#8c8c8c">Bộ lọc HEPA</text>
<text x="280.03" y="291" font-size="17.7" textLength="57.73" lengthAdjust="spacingAndGlyphs" fill="#8c8c8c">kết hợp</text>
<text x="281.0" y="312" font-size="17.7" textLength="107.99" lengthAdjust="spacingAndGlyphs" fill="#8c8c8c">than hoạt tính</text>
<text x="178.2" y="339.5" font-size="17.7" textLength="66.1" lengthAdjust="spacingAndGlyphs" fill="#8c8c8c">Nắp sau</text>
<text x="289.39" y="399.7" font-size="17.7" textLength="31.43" lengthAdjust="spacingAndGlyphs" fill="#8c8c8c">Cửa</text>
<text x="285.4" y="421.5" font-size="17.7" textLength="40.25" lengthAdjust="spacingAndGlyphs" fill="#8c8c8c">thoát</text>
<text x="294.15" y="443.3" font-size="17.7" textLength="22.54" lengthAdjust="spacingAndGlyphs" fill="#8c8c8c">khí</text>
<text x="74.72" y="472.5" font-size="17.7" textLength="78.43" lengthAdjust="spacingAndGlyphs" fill="#8c8c8c">Chiều cao</text>
<text x="91.26" y="494" font-size="17.7" textLength="50.18" lengthAdjust="spacingAndGlyphs" fill="#8c8c8c">có thể</text>
<text x="83.5" y="515.6" font-size="17.7" textLength="62.05" lengthAdjust="spacingAndGlyphs" fill="#8c8c8c">thay đổi</text>
<text x="77.0" y="537.5" font-size="17.7" textLength="80.39" lengthAdjust="spacingAndGlyphs" fill="#8c8c8c">từ 110 cm</text>
<text x="60.19" y="559" font-size="17.7" textLength="108.51" lengthAdjust="spacingAndGlyphs" fill="#8c8c8c">đến 127.5 cm</text>
<text x="136.18" y="673.3" font-size="17.7" textLength="64.06" lengthAdjust="spacingAndGlyphs" fill="#8c8c8c">37.7 cm</text>
<text x="236.59" y="675.5" font-size="17.7" textLength="63.54" lengthAdjust="spacingAndGlyphs" fill="#8c8c8c">37.7 cm</text>
<text x="474.52" y="18.8" font-size="17.7" textLength="227.37" lengthAdjust="spacingAndGlyphs" fill="#8c8c8c">Hiển thị chất lượng không khí</text>
<text x="496.7" y="39.8" font-size="17.7" textLength="184.48" lengthAdjust="spacingAndGlyphs" fill="#8c8c8c">và trạng thái chức năng</text>
<text x="311.0" y="352" font-size="17.7" textLength="105.47" lengthAdjust="spacingAndGlyphs" fill="#8c8c8c">Chọn chế độ/</text>
<text x="324.73" y="372.5" font-size="17.7" textLength="93.51" lengthAdjust="spacingAndGlyphs" fill="#8c8c8c">Bật/Tắt đèn</text>
<text x="353.75" y="423" font-size="17.7" textLength="133.98" lengthAdjust="spacingAndGlyphs" fill="#8c8c8c">Tốc độ quạt/ Wifi</text>
<text x="360.9" y="455.1" font-size="17.7" textLength="172.53" lengthAdjust="spacingAndGlyphs" fill="#8c8c8c">Tăng tốc độ làm sạch/</text>
<text x="342.4" y="476.7" font-size="17.7" textLength="192.94" lengthAdjust="spacingAndGlyphs" fill="#8c8c8c">Kiểm tra nồng độ hạt bụi</text>
<text x="570.85" y="451.6" font-size="17.7" textLength="33.04" lengthAdjust="spacingAndGlyphs" fill="#8c8c8c">Bật/</text>
<text x="577.1" y="472.6" font-size="17.7" textLength="22.42" lengthAdjust="spacingAndGlyphs" fill="#8c8c8c">Tắt</text>
<text x="722.13" y="412.1" font-size="17.7" textLength="65.33" lengthAdjust="spacingAndGlyphs" fill="#8c8c8c">Hẹn giờ/</text>
<text x="722.12" y="434.6" font-size="17.7" textLength="40.69" lengthAdjust="spacingAndGlyphs" fill="#8c8c8c">Khoá</text>
<text x="689.31" y="464" font-size="17.7" textLength="105.91" lengthAdjust="spacingAndGlyphs" fill="#8c8c8c">Chống dị ứng</text>
<text x="656.12" y="498.75" font-size="17.7" textLength="129.68" lengthAdjust="spacingAndGlyphs" fill="#8c8c8c">Chế độ thú cưng</text>
</svg></body></html>
